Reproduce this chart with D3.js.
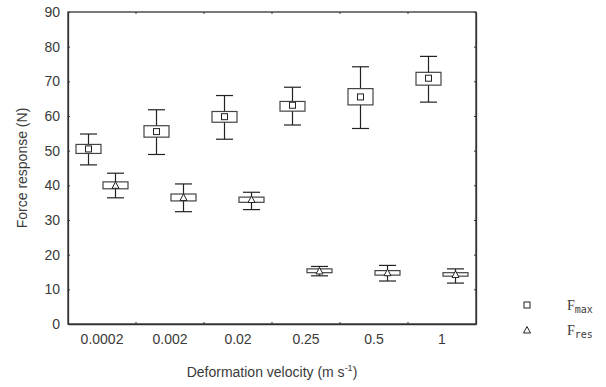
<!DOCTYPE html>
<html>
<head>
<meta charset="utf-8">
<script src="https://cdn.jsdelivr.net/npm/d3@7"></script>
<style>
  body { margin: 0; background: #fff; }
  svg text { font-family: "Liberation Sans", Arial, sans-serif; fill: #3a3a3a; }
</style>
</head>
<body>
<div id="chart"><svg></svg></div>
<script>
var width = 606, height = 387;
var margins = { left: 68, top: 12, right: 130, bottom: 63 };

// deformation velocity categories
var categories = ["0.0002", "0.002", "0.02", "0.25", "0.5", "1"];
var yTicks = [0, 10, 20, 30, 40, 50, 60, 70, 80, 90];

// F max: mean, box (low/high), whiskers (low/high)
var fmaxMean   = [50.5, 55.5, 59.8, 63.1, 65.5, 70.9];
var fmaxBoxLo  = [49.2, 53.9, 58.2, 61.4, 63.2, 68.9];
var fmaxBoxHi  = [51.8, 57.2, 61.3, 64.2, 67.9, 72.6];
var fmaxWhLo   = [45.9, 48.9, 53.3, 57.4, 56.4, 64.0];
var fmaxWhHi   = [54.8, 61.8, 65.9, 68.3, 74.2, 77.2];

// F res
var fresMean   = [40.0, 36.5, 35.9, 15.3, 14.8, 14.3];
var fresBoxLo  = [39.0, 35.5, 35.1, 14.8, 14.1, 13.8];
var fresBoxHi  = [41.0, 37.5, 36.6, 15.9, 15.4, 14.8];
var fresWhLo   = [36.4, 32.4, 33.0, 13.9, 12.4, 11.8];
var fresWhHi   = [43.5, 40.4, 38.0, 16.6, 16.9, 15.9];

var x = d3.scaleBand()
    .domain(categories)
    .range([margins.left, width - margins.right]);
var y = d3.scaleLinear()
    .domain([0, 90])
    .range([height - margins.bottom, margins.top]);

var svg = d3.select("#chart").select("svg")
    .attr("width", width)
    .attr("height", height);

var x0 = margins.left, x1 = width - margins.right;
var y0 = height - margins.bottom, y1 = margins.top;

// left axis with labels, ticks point inward
var yAxis = d3.axisLeft(y).tickValues(yTicks).tickSize(-2).tickPadding(8).tickSizeOuter(0);
var gy = svg.append("g").attr("transform", "translate(" + x0 + ",0)").call(yAxis);
gy.selectAll("text").style("font-size", "14px");

// right axis, ticks only
svg.append("g").attr("transform", "translate(" + x1 + ",0)")
    .call(d3.axisRight(y).tickValues(yTicks).tickSize(-2).tickSizeOuter(0).tickFormat(""));

// bottom labels
var gx = svg.append("g").attr("transform", "translate(0," + y0 + ")")
    .call(d3.axisBottom(x).tickSize(0).tickPadding(10).tickSizeOuter(0));
gx.selectAll("text").style("font-size", "14px");

// band boundary ticks on top and bottom
var bounds = categories.slice(1).map(function(d){ return x(d); });
svg.append("g").selectAll("line").data(bounds).enter().append("line")
    .attr("x1", function(d){ return d; }).attr("x2", function(d){ return d; })
    .attr("y1", y0).attr("y2", y0 - 2);
svg.append("g").selectAll("line").data(bounds).enter().append("line")
    .attr("x1", function(d){ return d; }).attr("x2", function(d){ return d; })
    .attr("y1", y1).attr("y2", y1 + 2);

// frame
svg.append("rect")
    .attr("x", x0).attr("y", y1)
    .attr("width", x1 - x0).attr("height", y0 - y1)
    .attr("fill", "none").attr("stroke", "#333").attr("stroke-width", 1.3);

svg.selectAll(".domain").attr("stroke", "#333").attr("stroke-width", 1.3);
svg.selectAll(".tick line").attr("stroke", "#333");
svg.selectAll("g > line").attr("stroke", "#333");

// box plot groups
function drawSeries(mean, boxLo, boxHi, whLo, whHi, offset, marker) {
  var rows = categories.map(function(c, i) {
    return { c: c, m: mean[i], bl: boxLo[i], bh: boxHi[i], wl: whLo[i], wh: whHi[i] };
  });
  var g = svg.append("g").selectAll("g").data(rows).enter().append("g")
      .attr("transform", function(d){ return "translate(" + (x(d.c) + x.bandwidth() / 2 + offset) + ",0)"; });
  var boxW = 25, capW = 17;
  g.append("line").attr("x1", 0).attr("x2", 0)
      .attr("y1", function(d){ return y(d.wh); }).attr("y2", function(d){ return y(d.wl); })
      .attr("stroke", "#222").attr("stroke-width", 1.2);
  g.append("line").attr("x1", -capW / 2).attr("x2", capW / 2)
      .attr("y1", function(d){ return y(d.wh); }).attr("y2", function(d){ return y(d.wh); })
      .attr("stroke", "#222").attr("stroke-width", 1.2);
  g.append("line").attr("x1", -capW / 2).attr("x2", capW / 2)
      .attr("y1", function(d){ return y(d.wl); }).attr("y2", function(d){ return y(d.wl); })
      .attr("stroke", "#222").attr("stroke-width", 1.2);
  g.append("rect").attr("x", -boxW / 2).attr("width", boxW)
      .attr("y", function(d){ return y(d.bh); })
      .attr("height", function(d){ return y(d.bl) - y(d.bh); })
      .attr("fill", "#fff").attr("stroke", "#444").attr("stroke-width", 1.2);
  if (marker === "square") {
    g.append("rect").attr("x", -3).attr("width", 6)
        .attr("y", function(d){ return y(d.m) - 3; }).attr("height", 6)
        .attr("fill", "#fff").attr("stroke", "#222").attr("stroke-width", 1);
  } else {
    g.append("path")
        .attr("d", function(d){ var c = y(d.m); return "M-3.5," + (c + 3) + "L0," + (c - 3.5) + "L3.5," + (c + 3) + "Z"; })
        .attr("fill", "#fff").attr("stroke", "#222").attr("stroke-width", 1);
  }
}
drawSeries(fmaxMean, fmaxBoxLo, fmaxBoxHi, fmaxWhLo, fmaxWhHi, -13.5, "square");
drawSeries(fresMean, fresBoxLo, fresBoxHi, fresWhLo, fresWhHi, 13.5, "triangle");

// axis titles
svg.append("text")
    .attr("transform", "translate(27," + ((y0 + y1) / 2) + ") rotate(-90)")
    .attr("text-anchor", "middle")
    .style("font-size", "14px")
    .text("Force response (N)");

var xt = svg.append("text")
    .attr("x", (x0 + x1) / 2).attr("y", 377)
    .attr("text-anchor", "middle")
    .style("font-size", "14px");
xt.append("tspan").text("Deformation velocity (m s");
xt.append("tspan").attr("dy", -6).style("font-size", "9px").text("-1");
xt.append("tspan").attr("dy", 6).text(")");

// legend
var legend = svg.append("g");
legend.append("rect").attr("x", 524).attr("y", 302).attr("width", 6).attr("height", 6)
    .attr("fill", "#fff").attr("stroke", "#222");
legend.append("path").attr("d", "M523.5,333L527,326.5L530.5,333Z")
    .attr("fill", "#fff").attr("stroke", "#222");
var lt1 = legend.append("text").attr("x", 567).attr("y", 310);
lt1.append("tspan").style("font-family", "'Liberation Serif', serif").style("font-size", "14px").text("F");
lt1.append("tspan").attr("dy", 3).style("font-family", "'DejaVu Sans Mono', monospace").style("font-size", "10px").text("max");
var lt2 = legend.append("text").attr("x", 567).attr("y", 335);
lt2.append("tspan").style("font-family", "'Liberation Serif', serif").style("font-size", "14px").text("F");
lt2.append("tspan").attr("dy", 3).style("font-family", "'DejaVu Sans Mono', monospace").style("font-size", "10px").text("res");
</script>
</body>
</html>
